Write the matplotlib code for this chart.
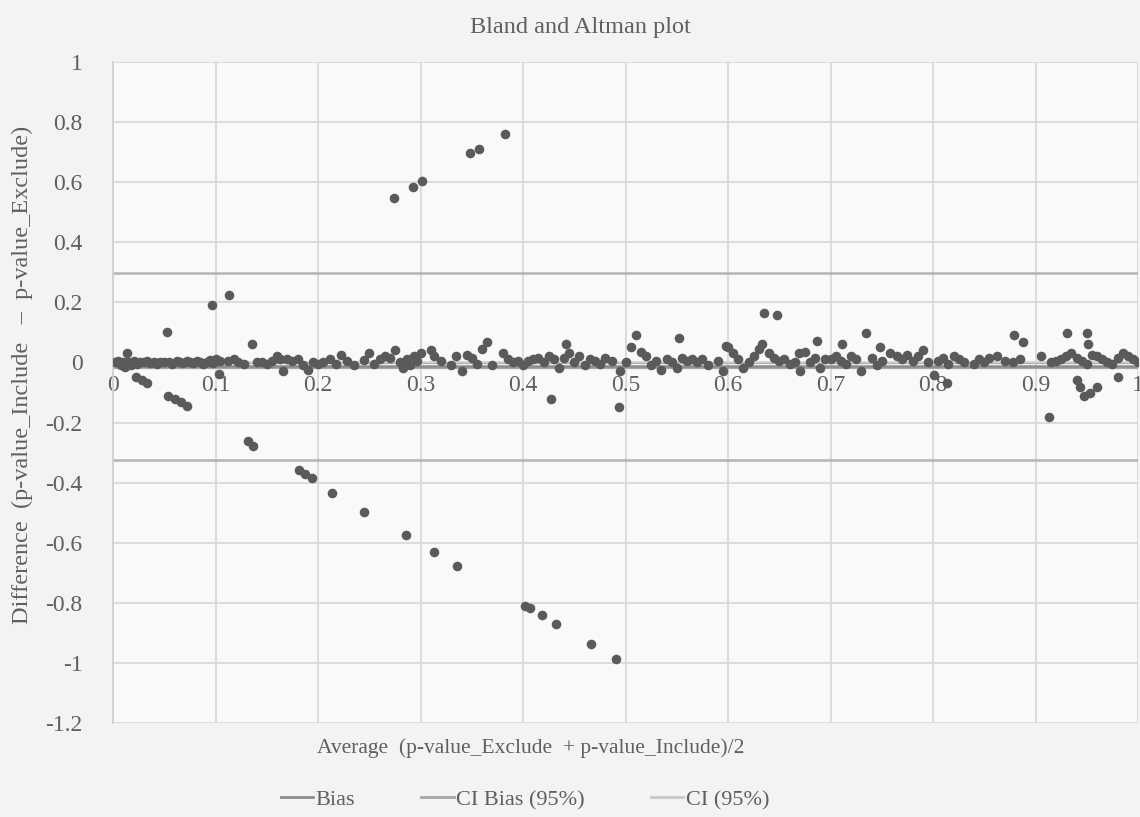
import matplotlib
matplotlib.use("Agg")
import matplotlib.pyplot as plt
from matplotlib.lines import Line2D

# ---------------- data ----------------
avg_near = [0.002,0.005,0.008,0.010,0.012,0.015,0.018,0.020,0.023,0.026,0.030,0.033,0.036,0.040,0.043,0.046,0.050,0.055,0.058,0.062,0.065,0.068,0.072,0.075,0.078,0.082,0.085,0.088,0.092,0.095,0.098,0.100,0.104,0.103,
            0.112,0.118,0.122,0.128,0.140,0.145,0.150,0.155,0.160,0.163,0.166,0.170,0.175,0.180,0.185,0.190,0.195,0.200,
            0.205,0.212,0.218,0.222,0.228,0.235,0.245,0.250,0.255,0.260,0.265,0.270,0.275,0.280,0.283,0.287,0.290,0.294,0.297,
            0.300,0.310,0.313,0.320,0.330,0.335,0.340,0.345,0.350,0.355,0.360,0.370,0.380,0.385,0.390,0.395,
            0.400,0.405,0.410,0.415,0.420,0.425,0.430,0.435,0.440,0.445,0.450,0.455,0.460,0.465,0.470,0.475,0.480,0.487,0.495,0.500,
            0.505,0.515,0.520,0.525,0.530,0.535,0.540,0.545,0.550,0.555,0.560,0.565,0.570,0.575,0.580,0.590,0.595,0.598,
            0.600,0.605,0.610,0.615,0.620,0.625,0.630,0.633,0.640,0.645,0.650,0.655,0.660,0.665,0.670,0.675,0.680,0.685,0.690,0.695,
            0.700,0.705,0.710,0.715,0.720,0.725,0.730,0.740,0.745,0.750,0.758,0.765,0.770,0.775,0.780,0.785,0.790,0.795,
            0.805,0.810,0.815,0.820,0.825,0.830,0.840,0.845,0.850,0.855,0.862,0.870,0.878,0.885,
            0.905,0.915,0.920,0.925,0.930,0.935,0.940,0.945,0.950,0.955,0.960,0.965,0.970,0.975,0.980,0.985,0.990,0.995,1.000]
diff_near = [0.000,0.005,-0.010,0.003,-0.015,0.000,-0.008,0.004,-0.004,0.002,0.000,0.006,-0.003,0.001,-0.006,0.003,0.000,0.002,-0.004,0.005,0.000,-0.002,0.004,0.001,-0.003,0.006,0.000,-0.005,0.003,0.008,-0.002,0.010,0.004,-0.037,
             0.005,0.010,0.002,-0.005,0.000,0.003,-0.004,0.006,0.020,0.010,-0.030,0.012,0.005,0.010,-0.010,-0.025,0.000,-0.005,
             0.002,0.010,-0.004,0.025,0.005,-0.010,0.008,0.030,-0.005,0.010,0.020,0.015,0.040,0.000,-0.020,0.010,-0.010,0.020,0.005,
             0.030,0.040,0.020,0.005,-0.010,0.020,-0.030,0.025,0.015,-0.005,0.045,-0.010,0.030,0.010,0.000,0.005,
             -0.010,0.005,0.010,0.015,0.000,0.020,0.010,-0.020,0.015,0.030,0.000,0.020,-0.010,0.010,0.005,-0.005,0.015,0.005,-0.030,0.000,
             0.050,0.035,0.020,-0.010,0.005,-0.025,0.010,0.000,-0.020,0.015,0.005,0.010,0.000,0.010,-0.010,0.005,-0.030,0.055,
             0.050,0.030,0.010,-0.020,0.000,0.020,0.045,0.060,0.030,0.015,0.005,0.010,-0.005,0.000,-0.030,0.035,0.000,0.015,-0.020,0.010,
             0.010,0.020,0.005,-0.005,0.020,0.010,-0.030,0.015,-0.010,0.005,0.030,0.020,0.010,0.025,0.005,0.020,0.040,0.000,
             0.005,0.015,-0.005,0.020,0.010,0.000,-0.005,0.010,0.000,0.015,0.020,0.005,0.000,0.010,
             0.020,0.000,0.005,0.010,0.020,0.030,0.015,0.005,-0.005,0.025,0.020,0.010,0.000,-0.005,0.015,0.030,0.020,0.010,0.000]

avg_out = [0.014,0.022,0.028,0.033,0.053,0.054,0.060,0.066,0.072,0.097,0.113,0.132,0.136,0.137,
           0.181,0.187,0.194,0.214,0.245,0.274,0.286,0.293,0.301,0.313,0.336,0.348,0.357,0.365,0.382,
           0.402,0.407,0.419,0.427,0.432,0.442,0.466,0.491,0.494,0.510,0.552,0.635,0.648,0.669,0.687,
           0.711,0.735,0.748,0.801,0.814,0.879,0.888,0.913,0.931,0.940,0.943,0.947,0.950,0.951,0.953,0.960,0.980]
diff_out = [0.030,-0.050,-0.060,-0.070,0.103,-0.113,-0.122,-0.133,-0.145,0.190,0.223,-0.263,0.063,-0.277,
            -0.358,-0.372,-0.386,-0.433,-0.497,0.547,-0.574,0.583,0.603,-0.630,-0.677,0.697,0.710,0.067,0.760,
            -0.810,-0.816,-0.840,-0.123,-0.870,0.063,-0.937,-0.987,-0.147,0.093,0.083,0.163,0.157,0.033,0.070,
            0.060,0.097,0.053,-0.043,-0.070,0.093,0.067,-0.180,0.097,-0.060,-0.083,-0.113,0.097,0.063,-0.100,-0.083,-0.050]

bias = -0.011
ci_bias = [-0.019, -0.003]
ci = [-0.323, 0.297]

x_ticks = [0, 0.1, 0.2, 0.3, 0.4, 0.5, 0.6, 0.7, 0.8, 0.9, 1]
y_ticks = [1, 0.8, 0.6, 0.4, 0.2, 0, -0.2, -0.4, -0.6, -0.8, -1, -1.2]

# ---------------- style ----------------
plt.rcParams['font.family'] = ['Liberation Serif', 'DejaVu Serif']
txt = '#5f5f5f'

fig = plt.figure(figsize=(11.4, 8.17), dpi=100, facecolor='#f3f3f3')
ax = fig.add_axes([113/1140, 1-723/817, (1138-113)/1140, (723-62)/817])
ax.set_facecolor('#f9f9f9')

ax.set_xlim(0, 1)
ax.set_ylim(-1.2, 1)
ax.set_xticks(x_ticks)
ax.set_xticklabels([f"{v:g}" for v in x_ticks])
ax.set_yticks(y_ticks)
ax.set_yticklabels([f"{v:g}" for v in y_ticks])
ax.grid(True, color='#d9d9d9', linewidth=1.3, zorder=0)
ax.set_axisbelow(True)

for s in ['top', 'right']:
    ax.spines[s].set_visible(False)
ax.spines['left'].set_color('#d0d0d0')
ax.spines['left'].set_linewidth(1.3)
ax.spines['bottom'].set_position(('data', 0))
ax.spines['bottom'].set_color('#d0d0d0')
ax.spines['bottom'].set_linewidth(1.0)
ax.tick_params(axis='both', length=0, labelsize=17, colors=txt)
ax.tick_params(axis='x', pad=9)
ax.tick_params(axis='y', pad=22)

# lines
ax.axhline(ci[0], color='#b4b4b4', linewidth=1.8, zorder=1)
ax.axhline(ci[1], color='#b4b4b4', linewidth=1.8, zorder=1)
ax.axhline(ci_bias[0], color='#a6a6a6', linewidth=1.6, zorder=1)
ax.axhline(ci_bias[1], color='#a6a6a6', linewidth=1.6, zorder=1)
ax.axhline(bias, color='#8c8c8c', linewidth=1.8, zorder=1)

ax.scatter(avg_near, diff_near, s=48, color='#5a5a5a', zorder=3, linewidths=0)
ax.scatter(avg_out, diff_out, s=48, color='#5a5a5a', zorder=3, linewidths=0)

# texts
fig.text(580/1140, 1-28/817, 'Bland and Altman plot', ha='center', va='center', fontsize=17.5, color=txt)
fig.text(531/1140, 1-748/817, 'Average  (p-value_Exclude  + p-value_Include)/2',
         ha='center', va='center', fontsize=15.5, color=txt)
fig.text(22/1140, 1-375/817, 'Difference  (p-value_Include   –  p-value_Exclude)',
         ha='center', va='center', rotation=90, fontsize=17.5, color=txt)

handles = [Line2D([], [], color='#8c8c8c', lw=2),
           Line2D([], [], color='#a6a6a6', lw=2),
           Line2D([], [], color='#c8c8c8', lw=2)]
leg = fig.legend(handles, ['Bias', 'CI Bias (95%)', 'CI (95%)'], loc='center',
                 bbox_to_anchor=(525/1140, 1-800/817), ncol=3, frameon=False,
                 fontsize=16, handlelength=1.45, handletextpad=0.1, columnspacing=3.0)
for t in leg.get_texts():
    t.set_color(txt)

fig.savefig('out.png', dpi=100, facecolor=fig.get_facecolor())
